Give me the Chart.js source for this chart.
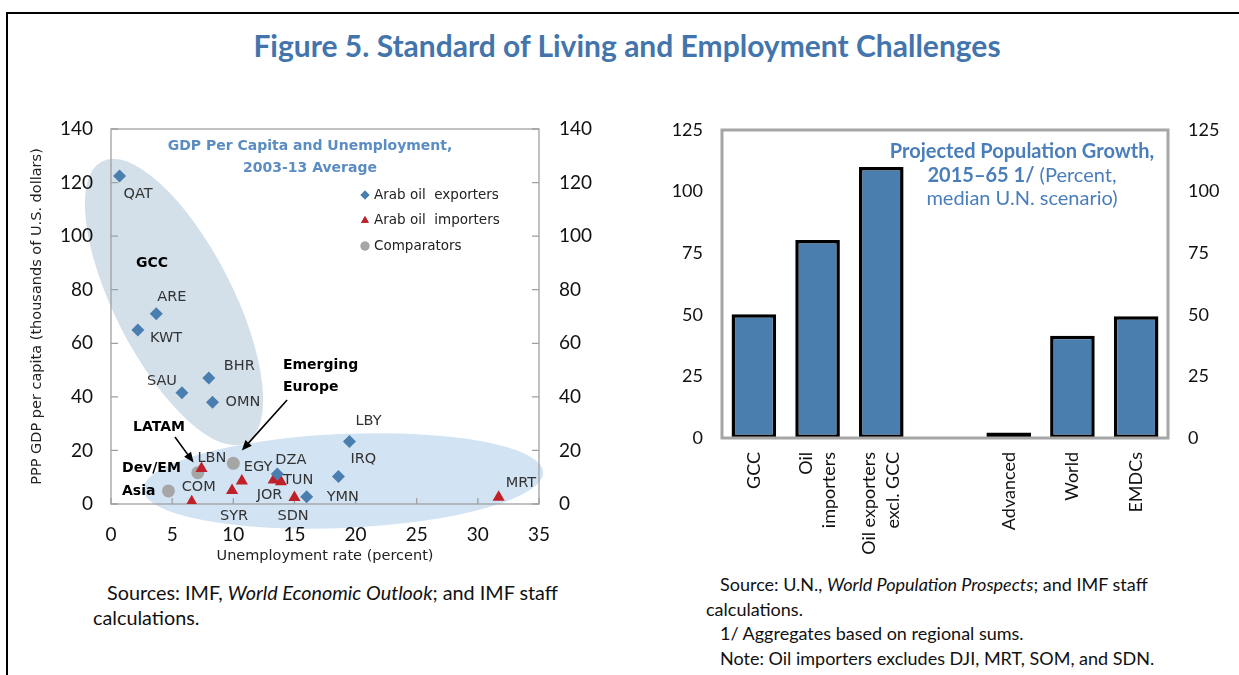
<!DOCTYPE html>
<html>
<head>
<meta charset="utf-8">
<script src="https://cdn.jsdelivr.net/npm/chart.js@4.4.0/dist/chart.umd.min.js"></script>
<style>
  html, body { margin: 0; padding: 0; background: #fff; }
  #page { position: relative; width: 1239px; height: 675px; overflow: hidden; font-family: Lato, sans-serif; }
  .rule-top { position: absolute; left: 6px; top: 12px; width: 1233px; height: 2px; background: #000; }
  .rule-left { position: absolute; left: 6px; top: 12px; width: 2px; height: 663px; background: #000; }
  #title { position: absolute; left: 0; width: 1254px; top: 27px; text-align: center;
           font: bold 30px Lato, sans-serif; color: #4375AC; }
  #scatterBox { position: absolute; left: 20px; top: 115px; width: 580px; height: 460px; }
  #barBox { position: absolute; left: 640px; top: 115px; width: 599px; height: 445px; }
  #barTitle { position: absolute; left: 862px; width: 320px; top: 139px; text-align: center;
              font: 20px/23.5px Lato, sans-serif; color: #4A7EBB; }
  #barTitle b { font-weight: bold; }
  .src { position: absolute; color: #111; }
  #srcLeft { left: 93px; top: 580px; width: 545px; font-size: 19.8px; line-height: 25px; }
  #srcRight { left: 706px; top: 572px; width: 533px; font-size: 18px; line-height: 24.5px; }
  .ind { padding-left: 14px; }
</style>
</head>
<body>
<div id="page">
  <div class="rule-top"></div>
  <div class="rule-left"></div>
  <div id="title">Figure 5. Standard of Living and Employment Challenges</div>

  <div id="scatterBox"><canvas id="chartScatter"></canvas></div>
  <div id="barBox"><canvas id="chartBar"></canvas></div>

  <div id="barTitle"><b>Projected Population Growth,</b><br><b>2015–65 1/</b> (Percent,<br>median U.N. scenario)</div>

  <div class="src" id="srcLeft"><span class="ind">Sources: IMF, <i>World Economic Outlook</i>; and IMF staff</span><br>calculations.</div>
  <div class="src" id="srcRight"><span class="ind">Source: U.N., <i>World Population Prospects</i>; and IMF staff</span><br>calculations.<br><span class="ind">1/ Aggregates based on regional sums.</span><br><span class="ind">Note: Oil importers excludes DJI, MRT, SOM, and SDN.</span></div>
</div>

<script>
// ---- left panel: GDP per capita vs unemployment, 2003-13 average ----
const exporterNames = ['QAT', 'ARE', 'KWT', 'SAU', 'BHR', 'OMN', 'DZA', 'LBY', 'IRQ', 'YMN'];
const exporterUnemp = [0.7, 3.7, 2.2, 5.8, 8.0, 8.3, 13.6, 19.5, 18.6, 16.0];
const exporterGdp   = [122.5, 71, 65, 41.5, 47, 38, 11.2, 23.3, 10.3, 2.7];

const importerNames = ['LBN', 'COM', 'SYR', 'EGY', 'JOR', 'TUN', 'SDN', 'MRT'];
const importerUnemp = [7.4, 6.6, 9.9, 10.7, 13.3, 13.9, 15.0, 31.7];
const importerGdp   = [13.3, 0.8, 5.0, 8.6, 9.0, 8.3, 2.4, 2.5];

const comparatorNames = ['LATAM', 'Dev/EM Asia', 'Emerging Europe'];
const comparatorUnemp = [7.1, 4.7, 10.0];
const comparatorGdp   = [11.7, 4.9, 15.2];

const xTicks = [0, 5, 10, 15, 20, 25, 30, 35];
const yTicks = [0, 20, 40, 60, 80, 100, 120, 140];

// label offsets (px) from each marker, left-aligned text
const exporterLabelOffsets = [[4, 18], [1, -17], [12, 8], [-35, -12], [15, -12], [13, 0], [-2, -14], [6, -20], [12, -17], [20, 0]];
const importerLabelOffsets = [[-4, -10], [-10, -15], [-12, 26], [2, -14], [-17, 15], [2, -2], [-17, 19], [7, -14]];

// ---- right panel: projected population growth ----
const popCategories = ['GCC', ['Oil', 'importers'], ['Oil exporters', 'excl. GCC'], '', 'Advanced', 'World', 'EMDCs'];
const popGrowth     = [50.2, 80.4, 110, null, 2.2, 41.5, 49.4];
const popTicks      = [0, 25, 50, 75, 100, 125];

const BLUE   = '#4A7EAE';
const RED    = '#C0202A';
const GREY   = '#A6A6A6';
const FRAME  = '#A0A0A0';
const TXT    = '#222222';
const SMALL  = '14.5px "DejaVu Sans", sans-serif';

const toPts = (xs, ys) => xs.map((x, i) => ({ x, y: ys[i] }));
const noPad = s => { s.paddingTop = 0; s.paddingBottom = 0; s.paddingLeft = 0; s.paddingRight = 0; };

function arrow(ctx, x1, y1, x2, y2) {
  const a = Math.atan2(y2 - y1, x2 - x1), h = 11;
  ctx.save();
  ctx.strokeStyle = '#000'; ctx.fillStyle = '#000'; ctx.lineWidth = 1.6;
  ctx.beginPath(); ctx.moveTo(x1, y1);
  ctx.lineTo(x2 - Math.cos(a) * h * 0.8, y2 - Math.sin(a) * h * 0.8); ctx.stroke();
  ctx.beginPath(); ctx.moveTo(x2, y2);
  ctx.lineTo(x2 - h * Math.cos(a - 0.4), y2 - h * Math.sin(a - 0.4));
  ctx.lineTo(x2 - h * Math.cos(a + 0.4), y2 - h * Math.sin(a + 0.4));
  ctx.closePath(); ctx.fill();
  ctx.restore();
}

const scatterDecor = {
  id: 'scatterDecor',
  beforeDraw(chart) {
    const { ctx, scales: { x, y } } = chart;
    ctx.save();
    // GCC cluster
    ctx.fillStyle = '#D3E0EA';
    ctx.beginPath();
    ctx.ellipse(x.getPixelForValue(5.15), y.getPixelForValue(75.4), 158, 59, 62.9 * Math.PI / 180, 0, Math.PI * 2);
    ctx.fill();
    // low-income cluster
    ctx.fillStyle = '#D2E3F3';
    ctx.beginPath();
    ctx.ellipse(x.getPixelForValue(19.0), y.getPixelForValue(8.6), 200, 47, -2.5 * Math.PI / 180, 0, Math.PI * 2);
    ctx.fill();
    ctx.restore();
  },
  beforeDatasetsDraw(chart) {
    const { ctx, chartArea: a, scales: { x, y } } = chart;
    ctx.save();
    ctx.strokeStyle = FRAME; ctx.lineWidth = 1.3;
    ctx.strokeRect(a.left, a.top, a.right - a.left, a.bottom - a.top);
    ctx.beginPath();
    y.ticks.forEach(t => {
      const py = y.getPixelForValue(t.value);
      ctx.moveTo(a.left, py); ctx.lineTo(a.left + 7, py);
      ctx.moveTo(a.right, py); ctx.lineTo(a.right - 7, py);
    });
    x.ticks.forEach(t => {
      const px = x.getPixelForValue(t.value);
      ctx.moveTo(px, a.bottom); ctx.lineTo(px, a.bottom - 6);
    });
    ctx.stroke();
    ctx.restore();
  },
  afterDatasetsDraw(chart) {
    const { ctx, scales: { x, y } } = chart;
    ctx.save();
    ctx.font = SMALL; ctx.fillStyle = '#333'; ctx.textBaseline = 'middle'; ctx.textAlign = 'left';
    exporterNames.forEach((n, i) => {
      const o = exporterLabelOffsets[i];
      ctx.fillText(n, x.getPixelForValue(exporterUnemp[i]) + o[0], y.getPixelForValue(exporterGdp[i]) + o[1]);
    });
    importerNames.forEach((n, i) => {
      const o = importerLabelOffsets[i];
      ctx.fillText(n, x.getPixelForValue(importerUnemp[i]) + o[0], y.getPixelForValue(importerGdp[i]) + o[1]);
    });

    // group annotations
    ctx.font = 'bold 14px "DejaVu Sans", sans-serif'; ctx.fillStyle = '#000';
    const put = (t, dx, dy) => ctx.fillText(t, x.getPixelForValue(dx), y.getPixelForValue(dy));
    put('GCC', 2.04, 90);
    put('Emerging', 14.06, 51.9);
    put('Europe', 14.06, 43.7);
    put('LATAM', 1.8, 28.7);
    put('Dev/EM', 0.9, 13.4);
    put('Asia', 0.9, 4.9);
    arrow(ctx, x.getPixelForValue(5.23), y.getPixelForValue(25.0), x.getPixelForValue(6.75), y.getPixelForValue(15.5));
    arrow(ctx, x.getPixelForValue(14.4), y.getPixelForValue(38.8), x.getPixelForValue(10.7), y.getPixelForValue(20.0));

    // panel title
    ctx.font = 'bold 14px "DejaVu Sans", sans-serif'; ctx.fillStyle = '#5B8DC3'; ctx.textAlign = 'center';
    ctx.fillText('GDP Per Capita and Unemployment,', 290, 31);
    ctx.fillText('2003-13 Average', 290, 53);

    // legend
    const legend = [['Arab oil  exporters', 'rectRot', BLUE], ['Arab oil  importers', 'triangle', RED], ['Comparators', 'circle', GREY]];
    ctx.font = '13.5px "DejaVu Sans", sans-serif'; ctx.textAlign = 'left';
    legend.forEach((l, i) => {
      const ly = 80 + i * 25.5;
      ctx.fillStyle = l[2]; ctx.strokeStyle = l[2];
      Chart.helpers.drawPoint(ctx, { pointStyle: l[1], radius: 4.5, borderWidth: 0 }, 345, ly);
      ctx.fill();
      ctx.fillStyle = TXT;
      ctx.fillText(l[0], 354, ly);
    });
    ctx.restore();
  }
};

new Chart(document.getElementById('chartScatter'), {
  type: 'scatter',
  data: {
    datasets: [
      { label: 'Arab oil exporters', data: toPts(exporterUnemp, exporterGdp), pointStyle: 'rectRot',
        pointRadius: 6.5, backgroundColor: BLUE, borderColor: BLUE, borderWidth: 0 },
      { label: 'Arab oil importers', data: toPts(importerUnemp, importerGdp), pointStyle: 'triangle',
        pointRadius: 7, backgroundColor: RED, borderColor: RED, borderWidth: 0 },
      { label: 'Comparators', data: toPts(comparatorUnemp, comparatorGdp), pointStyle: 'circle',
        pointRadius: 6.5, backgroundColor: GREY, borderColor: GREY, borderWidth: 0 },
    ],
  },
  options: {
    responsive: true, maintainAspectRatio: false, animation: false,
    layout: { padding: { top: 14, left: 0, right: 0, bottom: 0 } },
    plugins: { legend: { display: false }, tooltip: { enabled: false } },
    scales: {
      x: {
        type: 'linear', min: 0, max: 35,
        afterBuildTicks: s => { s.ticks = xTicks.map(v => ({ value: v })); },
        afterFit: s => { s.height = 71; noPad(s); },
        grid: { display: false, drawTicks: false }, border: { display: false },
        ticks: { color: '#111', font: { family: 'Lato', size: 19 }, padding: 19 },
        title: { display: true, text: 'Unemployment rate (percent)', color: TXT,
                 font: { family: 'DejaVu Sans', size: 14.5 }, padding: { top: 0, bottom: 10 } },
      },
      y: {
        position: 'left', min: 0, max: 140,
        afterBuildTicks: s => { s.ticks = yTicks.map(v => ({ value: v })); },
        afterFit: s => { s.width = 91; noPad(s); },
        grid: { display: false, drawTicks: false }, border: { display: false },
        ticks: { color: '#111', font: { family: 'Lato', size: 19 }, padding: 18 },
        title: { display: true, text: 'PPP GDP per capita (thousands of U.S. dollars)', color: TXT,
                 font: { family: 'DejaVu Sans', size: 14.5 }, padding: { top: 9, bottom: 0 } },
      },
      y2: {
        position: 'right', min: 0, max: 140,
        afterBuildTicks: s => { s.ticks = yTicks.map(v => ({ value: v })); },
        afterFit: s => { s.width = 61; noPad(s); },
        grid: { display: false, drawTicks: false }, border: { display: false },
        ticks: { color: '#111', font: { family: 'Lato', size: 19 }, padding: 20 },
      },
    },
  },
  plugins: [scatterDecor],
});

const barDecor = {
  id: 'barDecor',
  afterDatasetsDraw(chart) {
    const { ctx, chartArea: a, scales: { x } } = chart;
    ctx.save();
    ctx.strokeStyle = '#A6A6A6'; ctx.lineWidth = 3;
    ctx.strokeRect(a.left, a.top, a.right - a.left, a.bottom - a.top);

    // rotated category labels, multi-line labels centred on their bar
    const lineH = 23.5;
    ctx.font = '18px Lato, sans-serif'; ctx.fillStyle = '#111';
    ctx.textAlign = 'right'; ctx.textBaseline = 'middle';
    popCategories.forEach((lab, i) => {
      const lines = Array.isArray(lab) ? lab : [lab];
      const cx = x.getPixelForValue(i);
      lines.forEach((t, j) => {
        const lx = cx - (lines.length - 1) * lineH / 2 + j * lineH;
        ctx.save();
        ctx.translate(lx, a.bottom + 14);
        ctx.rotate(-Math.PI / 2);
        ctx.fillText(t, 0, 0);
        ctx.restore();
      });
    });
    ctx.restore();
  }
};

new Chart(document.getElementById('chartBar'), {
  type: 'bar',
  data: {
    labels: popCategories,
    datasets: [{
      data: popGrowth, backgroundColor: BLUE, borderColor: '#000', borderWidth: 3.5,
      borderSkipped: false, barPercentage: 0.7, categoryPercentage: 1.0,
    }],
  },
  options: {
    responsive: true, maintainAspectRatio: false, animation: false,
    layout: { padding: { top: 15, left: 0, right: 0, bottom: 0 } },
    plugins: { legend: { display: false }, tooltip: { enabled: false } },
    scales: {
      x: {
        afterFit: s => { s.height = 122; noPad(s); },
        grid: { display: false, drawTicks: false }, border: { display: false },
        ticks: { display: false },
      },
      y: {
        position: 'left', min: 0, max: 125,
        afterBuildTicks: s => { s.ticks = popTicks.map(v => ({ value: v })); },
        afterFit: s => { s.width = 82; noPad(s); },
        grid: { display: false, drawTicks: false }, border: { display: false },
        ticks: { color: '#111', font: { family: 'Lato', size: 18 }, padding: 19 },
      },
      y2: {
        position: 'right', min: 0, max: 125,
        afterBuildTicks: s => { s.ticks = popTicks.map(v => ({ value: v })); },
        afterFit: s => { s.width = 71; noPad(s); },
        grid: { display: false, drawTicks: false }, border: { display: false },
        ticks: { color: '#111', font: { family: 'Lato', size: 18 }, padding: 20 },
      },
    },
  },
  plugins: [barDecor],
});
</script>
</body>
</html>
